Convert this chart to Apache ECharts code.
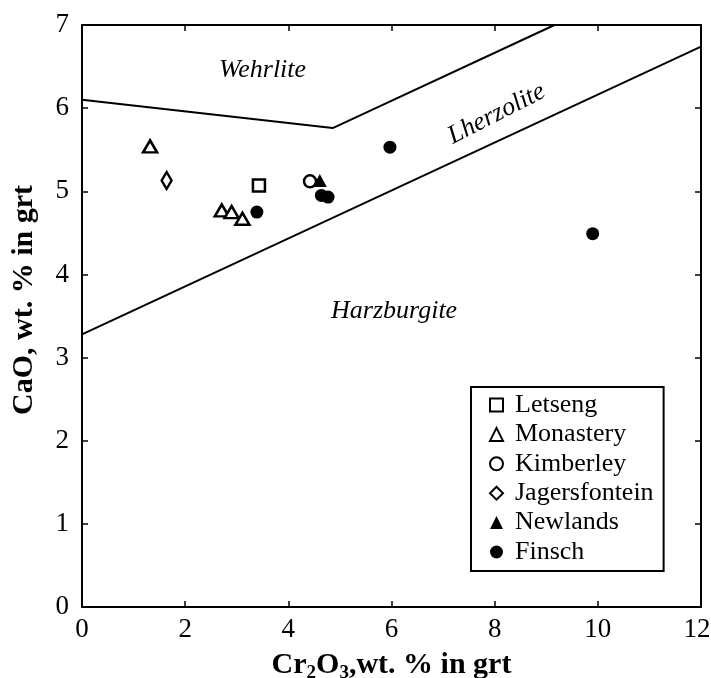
<!DOCTYPE html>
<html>
<head>
<meta charset="utf-8">
<script src="https://cdn.jsdelivr.net/npm/echarts@6/dist/echarts.min.js"></script>
<style>
html, body { margin: 0; padding: 0; background: #fff; }
#chart { width: 711px; height: 678px; }
</style>
</head>
<body>
<div id="chart"></div>
<script>
// Garnet CaO vs Cr2O3 (wt. %) by locality
const letseng = [[3.43, 5.07]];
const monastery = [[1.32, 5.54], [2.71, 4.77], [2.90, 4.75], [3.11, 4.67]];
const kimberley = [[4.42, 5.12]];
const jagersfontein = [[1.64, 5.13]];
const newlands = [[4.61, 5.13]];
const finsch = [[3.39, 4.75], [4.64, 4.95], [4.77, 4.93], [5.97, 5.53], [9.90, 4.49]];

// Field boundaries
const wehrliteBoundary = [[0, 6.10], [4.86, 5.76], [9.16, 7.0]];
const harzburgiteBoundary = [[0, 3.28], [12, 6.74]];

// Field names and their anchor points
const fieldNames = ['Wehrlite', 'Lherzolite', 'Harzburgite'];
const fieldAnchors = [[3.5, 6.46], [8.04, 5.93], [6.05, 3.56]];
const fieldAngles = [0, 27, 0];

// Axis ranges
const xRange = { min: 0, max: 12, interval: 2 };
const yRange = { min: 0, max: 7, interval: 1 };

const FONT = 'Liberation Serif';
const chart = echarts.init(document.getElementById('chart'));

const openStyle = { color: '#fff', borderColor: '#000', borderWidth: 2.5, opacity: 1 };
const solidStyle = { color: '#000', borderColor: '#000', borderWidth: 0, opacity: 1 };

function pointSeries(name, data, symbol, size, style) {
  return {
    name: name, type: 'scatter', data: data,
    symbol: symbol, symbolSize: size,
    itemStyle: style, z: 5,
    emphasis: { disabled: true }
  };
}

function boundary(data) {
  return {
    type: 'line', data: data, symbol: 'none', silent: true,
    lineStyle: { color: '#000', width: 2 }, z: 3
  };
}

const axisCommon = {
  axisLine: { show: true, onZero: false, lineStyle: { color: '#000', width: 2 } },
  axisTick: { show: true, inside: true, length: 6, lineStyle: { color: '#000', width: 1.5 } },
  splitLine: { show: false }
};

const option = {
  backgroundColor: '#fff',
  animation: false,
  grid: { left: 82, right: 10, top: 25, bottom: 71, containLabel: false, outerBoundsMode: 'none' },
  xAxis: [
    Object.assign({
      type: 'value', position: 'bottom',
      min: xRange.min, max: xRange.max, interval: xRange.interval,
      axisLabel: {
        color: '#000', fontFamily: FONT, fontSize: 27, margin: 9,
        // keep the last label inside the canvas edge
        formatter: v => (v === xRange.max ? '{edge|' + v + '}' : String(v)),
        rich: { edge: { fontFamily: FONT, fontSize: 27, color: '#000', padding: [0, 8, 0, 0] } }
      },
      name: '{t|Cr}{s|2}{t|O}{s|3}{t|,wt. % in grt}',
      nameLocation: 'middle', nameGap: 39,
      nameTextStyle: {
        rich: {
          t: { fontFamily: FONT, fontSize: 30, fontWeight: 'bold', color: '#000', lineHeight: 34 },
          s: { fontFamily: FONT, fontSize: 19, fontWeight: 'bold', color: '#000', lineHeight: 34, padding: [16, 0, 0, 0] }
        }
      }
    }, axisCommon),
    Object.assign({
      type: 'value', position: 'top',
      min: xRange.min, max: xRange.max, interval: xRange.interval,
      axisLabel: { show: false }
    }, axisCommon)
  ],
  yAxis: [
    Object.assign({
      type: 'value', position: 'left',
      min: yRange.min, max: yRange.max, interval: yRange.interval,
      axisLabel: { color: '#000', fontFamily: FONT, fontSize: 27, margin: 13 },
      name: 'CaO, wt. % in grt',
      nameLocation: 'middle', nameGap: 43,
      nameTextStyle: {
        fontFamily: FONT, fontSize: 30, fontWeight: 'bold', color: '#000',
        padding: [0, 0, 0, 32]
      }
    }, axisCommon),
    Object.assign({
      type: 'value', position: 'right',
      min: yRange.min, max: yRange.max, interval: yRange.interval,
      axisLabel: { show: false }
    }, axisCommon)
  ],
  legend: {
    orient: 'vertical',
    left: 471, top: 387,
    padding: [5, 10, 6, 18],
    borderColor: '#000', borderWidth: 2,
    backgroundColor: '#fff',
    itemWidth: 13, itemHeight: 13, itemGap: 3.4,
    selectedMode: false,
    textStyle: { fontFamily: FONT, fontSize: 26, color: '#000', lineHeight: 26, padding: [0, 0, 0, 7] },
    data: ['Letseng', 'Monastery', 'Kimberley', 'Jagersfontein', 'Newlands', 'Finsch']
  },
  series: [
    boundary(wehrliteBoundary),
    boundary(harzburgiteBoundary),
    {
      type: 'scatter', silent: true, symbolSize: 0, z: 4,
      itemStyle: { opacity: 1 },
      data: fieldNames.map((n, i) => ({
        name: n, value: fieldAnchors[i],
        label: { rotate: fieldAngles[i] }
      })),
      label: {
        show: true, position: 'inside', formatter: '{b}',
        fontFamily: FONT, fontSize: 26, fontStyle: 'italic', color: '#000'
      }
    },
    pointSeries('Letseng', letseng, 'rect', 12, openStyle),
    pointSeries('Monastery', monastery, 'triangle', [14, 12], openStyle),
    pointSeries('Kimberley', kimberley, 'circle', 12, openStyle),
    pointSeries('Jagersfontein', jagersfontein, 'diamond', [10, 17], openStyle),
    pointSeries('Newlands', newlands, 'triangle', [14, 13], solidStyle),
    pointSeries('Finsch', finsch, 'circle', 13, solidStyle)
  ]
};

chart.setOption(option);
</script>
</body>
</html>
